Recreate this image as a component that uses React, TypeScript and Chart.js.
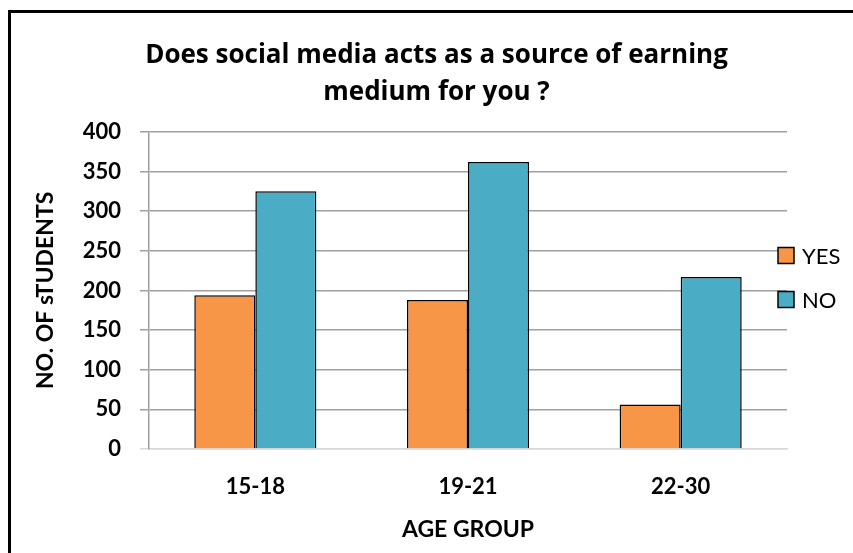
import React, { useEffect, useRef } from "react";
import { Chart, registerables } from "chart.js";

Chart.register(...registerables);

const categories = ["15-18", "19-21", "22-30"];
const yesValues = [194, 188, 56];
const noValues = [325, 362, 217];
const seriesNames = ["YES", "NO"];
const titleLines = ["Does social media acts as a source of earning", "medium for you ?"];
const xTitle = "AGE GROUP";
const yTitle = "NO. OF sTUDENTS";

const FONT = "Lato, 'Open Sans', sans-serif";
const TITLE_FONT = "'Open Sans', Lato, sans-serif";

const legendPlugin = {
  id: "sideLegend",
  afterDraw(chart: any) {
    const { ctx, chartArea } = chart;
    ctx.save();
    const x = chartArea.right - 9;
    const baseY = 255.5;
    const gap = 44;
    chart.data.datasets.forEach((ds: any, i: number) => {
      const cy = baseY + i * gap;
      ctx.fillStyle = ds.backgroundColor;
      ctx.fillRect(x, cy - 8, 16, 16);
      ctx.lineWidth = 1.5;
      ctx.strokeStyle = "#000";
      ctx.strokeRect(x, cy - 8, 16, 16);
      ctx.fillStyle = "#000";
      ctx.font = `22px ${FONT}`;
      ctx.textBaseline = "middle";
      ctx.textAlign = "left";
      ctx.fillText(ds.label, x + 24, cy + 1);
    });
    ctx.restore();
  },
};

export default function App() {
  const ref = useRef<HTMLCanvasElement | null>(null);
  useEffect(() => {
    if (!ref.current) return;
    const chart = new Chart(ref.current, {
      type: "bar",
      data: {
        labels: categories,
        datasets: [
          {
            label: seriesNames[0],
            data: yesValues,
            backgroundColor: "#F79646",
            borderColor: "#000",
            borderWidth: 1.5,
            categoryPercentage: 0.574,
            barPercentage: 1,
          },
          {
            label: seriesNames[1],
            data: noValues,
            backgroundColor: "#4BACC6",
            borderColor: "#000",
            borderWidth: 1.5,
            categoryPercentage: 0.574,
            barPercentage: 1,
          },
        ],
      },
      options: {
        responsive: false,
        animation: false,
        layout: { padding: { left: 0, right: 0, top: 0, bottom: 0 } },
        plugins: {
          legend: { display: false },
          tooltip: { enabled: false },
          title: {
            display: true,
            text: titleLines,
            color: "#000",
            font: { family: TITLE_FONT, size: 26, weight: "bold", lineHeight: 1.42 },
            padding: { top: 37, bottom: 21 },
          },
        },
        scales: {
          x: {
            grid: { display: false, drawTicks: false },
            border: { display: true, color: "#d9d9d9", width: 1.5 },
            ticks: {
              color: "#000",
              font: { family: FONT, size: 22, weight: "bold" },
              padding: 25,
            },
            title: {
              display: true,
              text: xTitle,
              color: "#000",
              font: { family: FONT, size: 23, weight: "bold" },
              padding: { top: 0, bottom: 10 },
            },
            afterFit: (s: any) => {
              s.height = 104;
            },
          },
          y: {
            min: 0,
            max: 400,
            ticks: {
              stepSize: 50,
              color: "#000",
              font: { family: FONT, size: 22, weight: "bold" },
              padding: 19,
            },
            grid: {
              color: (c: any) => (c.tick && c.tick.value === 0 ? "#d9d9d9" : "#a0a0a0"),
              lineWidth: 1.5,
              tickLength: 9,
              drawTicks: true,
            },
            border: { display: true, color: "#a0a0a0", width: 1.5 },
            title: {
              display: true,
              text: yTitle,
              color: "#000",
              font: { family: FONT, size: 23, weight: "bold" },
              padding: { top: 32, bottom: 0 },
            },
            afterFit: (s: any) => {
              s.width = 149;
            },
          },
          yRight: {
            position: "right",
            min: 0,
            max: 400,
            grid: { display: false, drawTicks: false },
            border: { display: false },
            ticks: { display: false },
            afterFit: (s: any) => {
              s.width = 86;
            },
          },
        },
      },
      plugins: [legendPlugin],
    });
    return () => chart.destroy();
  }, []);

  return (
    <div style={{ position: "fixed", left: 0, top: 0, width: 853, height: 553, overflow: "hidden", background: "#fff" }}>
      <div
        style={{
          position: "absolute",
          left: 8,
          top: 10,
          width: 900,
          height: 600,
          border: "3px solid #000",
          boxSizing: "border-box",
        }}
      />
      <canvas ref={ref} width={873} height={553} style={{ position: "absolute", left: 0, top: 0 }} />
    </div>
  );
}
